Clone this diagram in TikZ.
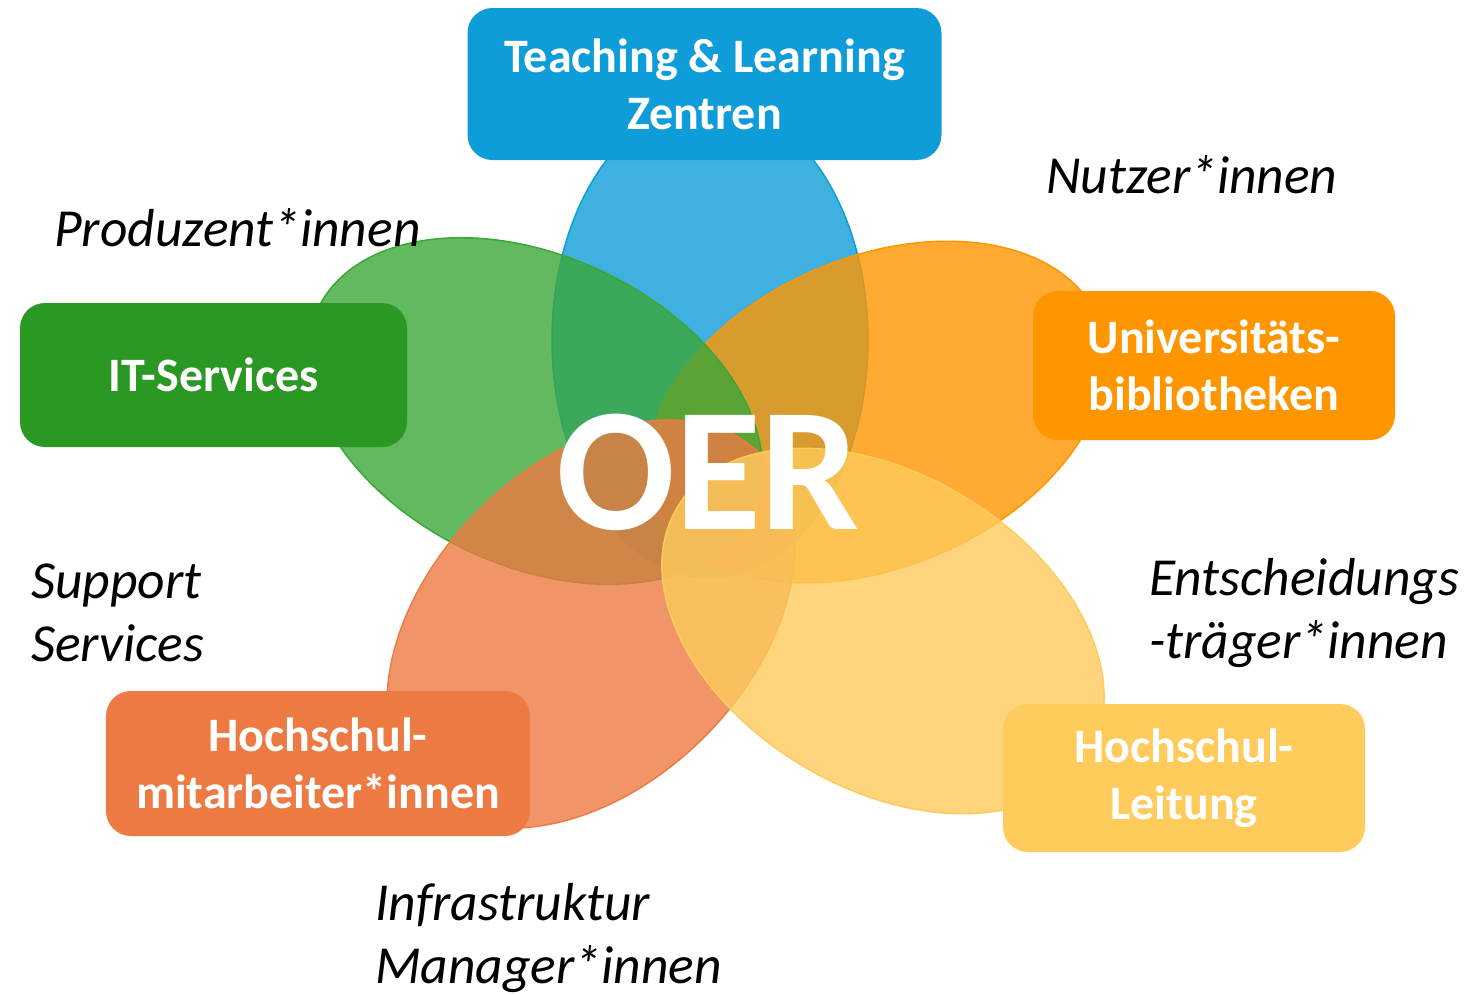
\documentclass[tikz,border=0pt]{standalone}
\usepackage{fontspec}
\setmainfont{Carlito}
\usetikzlibrary{positioning}
\definecolor{tlblue}{HTML}{0E9DD9}
\definecolor{itgreen}{HTML}{2A9823}
\definecolor{itpetal}{HTML}{3BA738}
\definecolor{uborange}{HTML}{FF9600}
\definecolor{hmred}{HTML}{ED7A42}
\definecolor{hlyellow}{HTML}{FECB5C}
\tikzset{
  petal/.style={fill=#1, fill opacity=0.8, draw=#1, line width=1.5},
  box/.style={fill=#1, rounded corners=25, text=white, align=center, inner sep=0,
    font=\bfseries\fontsize{48}{57}\selectfont},
  role/.style={anchor=west, align=left, inner sep=0, font=\itshape\fontsize{53.5}{63}\selectfont},
}
\begin{document}
\begin{tikzpicture}[x=1pt,y=-1pt]
\useasboundingbox (0,0) rectangle (1467,994);

% petals
\draw[petal=tlblue, shift={(710,340)}, rotate=90] (0,0) ellipse (238 and 158);
\draw[petal=uborange, shift={(877,412)}, rotate=23] (0,0) ellipse (240 and 155);
\draw[petal=itpetal, shift={(535,411)}, rotate=-25] (0,0) ellipse (240 and 155);
\draw[petal=hmred, shift={(591,624)}, rotate=45] (0,0) ellipse (240 and 160);
\draw[petal=hlyellow, shift={(883,631)}, rotate=-31] (0,0) ellipse (240 and 157);

% boxes
\node[box=tlblue, minimum width=474, minimum height=152] (tlz) at (704.5,84) {Teaching \& Learning\\Zentren};
\node[box=itgreen, minimum width=387, minimum height=144] (its) at (213.5,375) {IT-Services};
\node[box=uborange, minimum width=362, minimum height=149] (ubib) at (1214,365.5) {Universitäts-\\bibliotheken};
\node[box=hmred, minimum width=424, minimum height=145] (hmit) at (318,763.5) {Hochschul-\\mitarbeiter*innen};
\node[box=hlyellow, minimum width=362, minimum height=148] (hlei) at (1184,778) {Hochschul-\\Leitung};

\node[text=white, inner sep=0, font=\bfseries\fontsize{176}{176}\selectfont] (oer) at (708,472) {OER};

% roles
\node[role] (nutzer) at (1046,175) {Nutzer*innen};
\node[role] (prod) at (54,228) {Produzent*innen};
\node[role] (support) at (31,613) {Support\\Services};
\node[role] (entsch) at (1149,613) {Entscheidungs\\-träger*innen};
\node[role] (infra) at (375,938) {Infrastruktur\\Manager*innen};
\end{tikzpicture}
\end{document}
